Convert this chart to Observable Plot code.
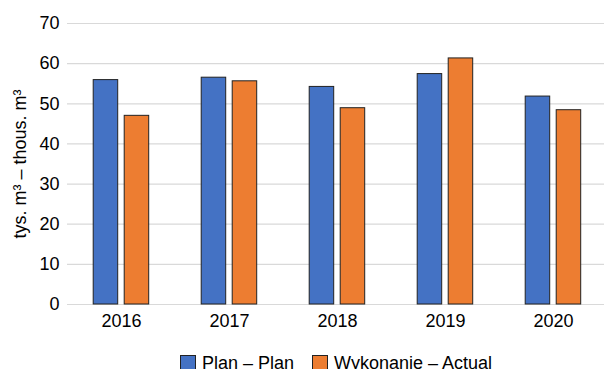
<!DOCTYPE html>
<html><head><meta charset="utf-8">
<script src="https://cdn.jsdelivr.net/npm/d3@7"></script>
<script src="https://cdn.jsdelivr.net/npm/@observablehq/plot@0.6"></script>
<style>
body{margin:0;background:#fff;font-family:"Liberation Sans",Arial,sans-serif;}
#legend{display:flex;align-items:flex-start;padding-top:9px;padding-left:180px;font-size:18px;line-height:18px;color:#000;height:15px;overflow:visible}
.item{display:flex;align-items:flex-start;margin-right:18px}
.sw{width:14px;height:15px;border:1px solid #222;margin-right:6px;margin-top:1px;box-sizing:content-box}
</style></head>
<body>
<div id="chart"></div>
<div id="legend"></div>
<script>
const years = ["2016","2017","2018","2019","2020"];
const planValues = [55.9, 56.5, 54.2, 57.4, 51.8];
const actualValues = [47.0, 55.6, 48.9, 61.3, 48.4];
const seriesNames = ["Plan – Plan", "Wykonanie – Actual"];
const seriesColors = ["#4472C4", "#ED7D31"];
const yTicks = [0,10,20,30,40,50,60,70];

const plan = years.map((y,i)=>({year:y, value:planValues[i]}));
const actual = years.map((y,i)=>({year:y, value:actualValues[i]}));

const chart = Plot.plot({
  width: 604,
  height: 345,
  marginLeft: 67,
  marginRight: 0,
  marginTop: 23,
  marginBottom: 41,
  style: {fontFamily: '"Liberation Sans", Arial, sans-serif', fontSize: "18px", color: "#000", background: "#fff"},
  x: {type: "band", domain: years, range: [67.2, 607.7], padding: 0},
  y: {domain: [0, 70]},
  marks: [
    Plot.ruleY(yTicks, {stroke: "#d9d9d9", strokeWidth: 1.2}),
    Plot.barY(plan, {x: "year", y: "value", fill: seriesColors[0], stroke: "#222", strokeWidth: 1, insetLeft: 26.2, insetRight: 57.3}),
    Plot.barY(actual, {x: "year", y: "value", fill: seriesColors[1], stroke: "#222", strokeWidth: 1, insetLeft: 57.2, insetRight: 26.3}),
    Plot.axisY({ticks: yTicks, tickSize: 0, tickPadding: 8, label: "tys. m³ – thous. m³", labelAnchor: "center", labelArrow: "none", labelOffset: 54}),
    Plot.axisX({tickSize: 0, tickPadding: 10, label: null})
  ]
});
document.getElementById("chart").appendChild(chart);

const legend = document.getElementById("legend");
seriesNames.forEach((n,i)=>{
  const it = document.createElement("div"); it.className="item";
  const sw = document.createElement("div"); sw.className="sw"; sw.style.background = seriesColors[i];
  const t = document.createElement("span"); t.textContent = n;
  it.appendChild(sw); it.appendChild(t); legend.appendChild(it);
});
</script>
</body></html>
